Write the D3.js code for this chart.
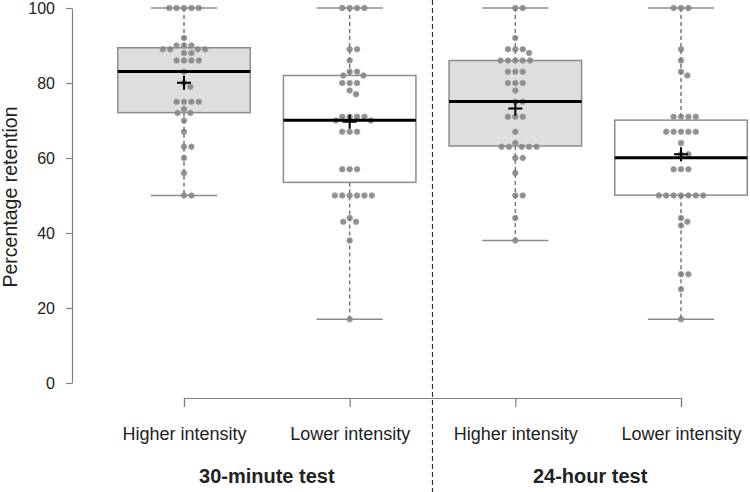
<!DOCTYPE html>
<html><head><meta charset="utf-8">
<script src="https://cdn.jsdelivr.net/npm/d3@7"></script>
<style>
body{margin:0;background:#fff}
svg{display:block}
text{font-family:"Liberation Sans",Arial,sans-serif;fill:#222}
</style>
</head><body>
<svg id="chart" width="750" height="492"></svg>
<script>
// ---------------- data ----------------
const categories = ["Higher intensity", "Lower intensity", "Higher intensity", "Lower intensity"];
const tests = ["30-minute test", "24-hour test"];
const testOfGroup = [0, 0, 1, 1];
const yTicks = [0, 20, 40, 60, 80, 100];

// box statistics
const whiskerLow  = [50, 17, 38, 17];
const q1          = [72.1, 53.5, 63.2, 50.1];
const medians     = [83.1, 70.1, 75.1, 60.1];
const q3          = [89.4, 82.0, 86.0, 70.1];
const whiskerHigh = [100, 100, 100, 100];
const means       = [80.1, 69.7, 73.2, 61.0];

// individual participants (percentage retention)
const higher30 = [100,100,100,100,100,92,90,90,90,89,89,89,89,88,88,86,86,86,86,83,80,79,75,75,75,75,73,72,72,70,67,63,63,60,56,50,50];
const lower30  = [100,100,100,100,89,89,86,83,83,82,82,80,80,80,78,77,71,71,71,71,70,70,67,67,67,57,57,57,50,50,50,50,50,50,44,43,43,38,17];
const higher24 = [100,100,92,89,89,89,88,86,86,86,86,86,83,83,83,80,80,80,78,75,75,71,71,71,67,64,63,63,63,63,63,60,60,56,50,50,44,38];
const lower24  = [100,100,100,89,86,83,82,71,71,71,71,67,67,67,67,67,64,61,61,57,57,57,50,50,50,50,50,50,50,44,43,42,29,29,25,17];
const groupValues = [higher30, lower30, higher24, lower24];

// ---------------- layout ----------------
const svg = d3.select("#chart");
const idx = d3.range(categories.length);
const x = d3.scalePoint().domain(idx).range([184, 681]);
const y = d3.scaleLinear().domain([0, 100]).range([383, 8]);
const step = x.step();
const boxW = step * 0.8, capW = step * 0.4;
const fill = d3.scaleOrdinal().domain(["Higher intensity", "Lower intensity"]).range(["#dedede", "#ffffff"]);

// y axis
const yAxis = svg.append("g").attr("transform", "translate(72,0)")
  .call(d3.axisLeft(y).tickValues(yTicks).tickSize(6).tickSizeOuter(0).tickPadding(11));
yAxis.selectAll("path,line").attr("stroke", "#808080").attr("stroke-width", 1.2);
yAxis.selectAll("text").attr("font-size", 16).attr("fill", "#222")
  .attr("font-family", '"Liberation Sans",Arial,sans-serif');

svg.append("text")
  .attr("transform", "translate(17,197) rotate(-90)")
  .attr("text-anchor", "middle").attr("font-size", 19.5)
  .text("Percentage retention");

// x axis
const xAxis = svg.append("g").attr("transform", "translate(0,398)")
  .call(d3.axisBottom(x).tickSize(9).tickPadding(20).tickFormat(i => categories[i]));
xAxis.selectAll("path,line").attr("stroke", "#808080").attr("stroke-width", 1.2);
xAxis.selectAll("text").attr("font-size", 18).attr("fill", "#222")
  .attr("font-family", '"Liberation Sans",Arial,sans-serif');

// test labels
tests.forEach((t, k) => {
  const members = idx.filter(i => testOfGroup[i] === k);
  const cx = d3.mean(members, i => x(i)) - (k === 1 ? 8 : 0);
  svg.append("text").attr("x", cx).attr("y", 483)
    .attr("text-anchor", "middle").attr("font-size", 20).attr("font-weight", "bold")
    .text(t);
});

// separator
svg.append("line")
  .attr("x1", (x(1) + x(2)) / 2).attr("x2", (x(1) + x(2)) / 2)
  .attr("y1", 0).attr("y2", 492)
  .attr("stroke", "#333").attr("stroke-width", 1.2).attr("stroke-dasharray", "5,3");

// boxes
const g = svg.append("g");
idx.forEach(i => {
  const cx = x(i);
  g.append("rect")
    .attr("x", cx - boxW / 2).attr("width", boxW)
    .attr("y", y(q3[i])).attr("height", y(q1[i]) - y(q3[i]))
    .attr("fill", fill(categories[i])).attr("stroke", "#8c8c8c").attr("stroke-width", 1.5);
});

// swarm of points
function swarm(vals, cx) {
  const D = 7.4, placed = [];
  vals.forEach(v => {
    const py = y(v);
    const near = placed.filter(p => Math.abs(p.y - py) < D);
    const cands = [0];
    near.forEach(p => {
      const d = Math.sqrt(D * D - (p.y - py) ** 2);
      cands.push(p.dx + d, p.dx - d);
    });
    cands.sort((a, b) => Math.abs(a) - Math.abs(b) || b - a);
    const dx = cands.find(c => near.every(p => (p.dx - c) ** 2 + (p.y - py) ** 2 >= D * D - 0.01));
    placed.push({ v, y: py, dx });
  });
  return placed.map(p => ({ x: cx + p.dx, y: p.y }));
}
idx.forEach(i => {
  const pts = swarm(groupValues[i], x(i));
  g.selectAll(null).data(pts).enter().append("circle")
    .attr("cx", d => d.x).attr("cy", d => d.y).attr("r", 2.8)
    .attr("fill", "#858585").attr("fill-opacity", 0.9)
    .attr("stroke", "#9a9a9a").attr("stroke-width", 0.8);
});

// whiskers, caps, medians, means
idx.forEach(i => {
  const cx = x(i);
  [[whiskerHigh[i], q3[i]], [q1[i], whiskerLow[i]]].forEach(([a, b]) => {
    g.append("line").attr("x1", cx).attr("x2", cx).attr("y1", y(a)).attr("y2", y(b))
      .attr("stroke", "#7a7a7a").attr("stroke-width", 1.5).attr("stroke-dasharray", "4,3");
  });
  [whiskerHigh[i], whiskerLow[i]].forEach(v => {
    g.append("line").attr("x1", cx - capW / 2).attr("x2", cx + capW / 2)
      .attr("y1", y(v)).attr("y2", y(v))
      .attr("stroke", "#8c8c8c").attr("stroke-width", 1.5);
  });
  g.append("line").attr("x1", cx - boxW / 2).attr("x2", cx + boxW / 2)
    .attr("y1", y(medians[i])).attr("y2", y(medians[i]))
    .attr("stroke", "#000").attr("stroke-width", 3);
  const my = y(means[i]);
  g.append("path")
    .attr("d", `M${cx - 7},${my}H${cx + 7}M${cx},${my - 7}V${my + 7}`)
    .attr("stroke", "#000").attr("stroke-width", 2).attr("fill", "none");
});
</script>
</body></html>
